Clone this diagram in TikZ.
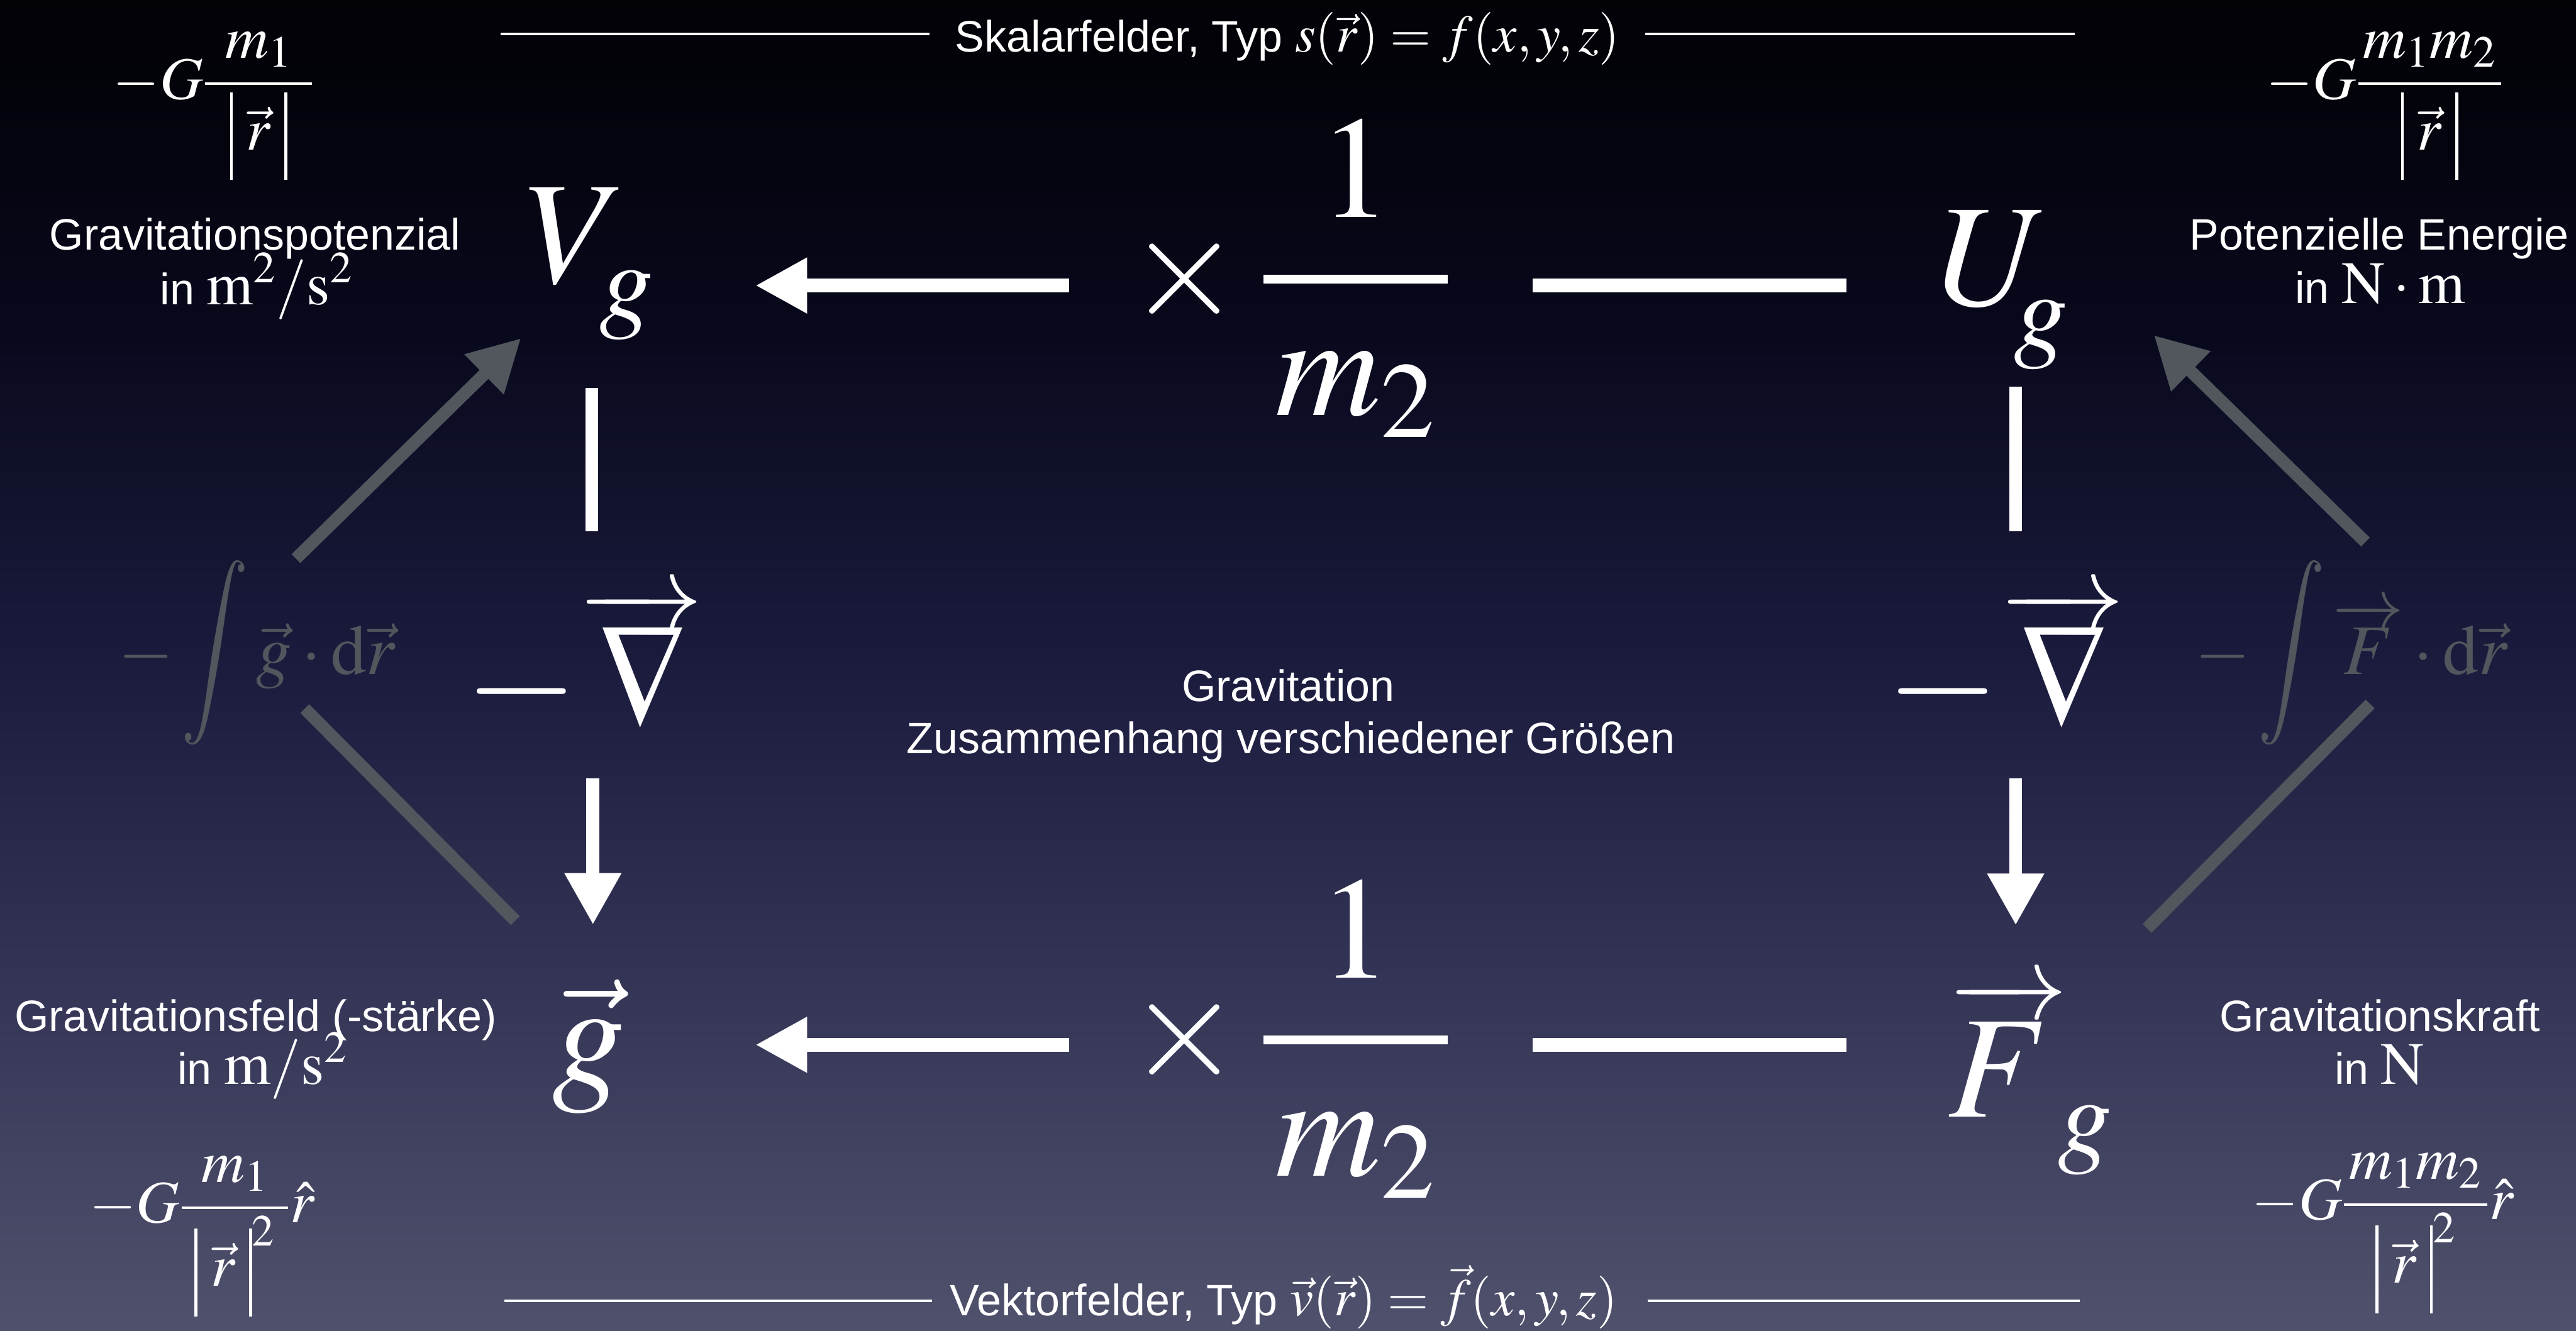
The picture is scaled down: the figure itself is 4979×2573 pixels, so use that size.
\documentclass[tikz,border=0pt]{standalone}
\usepackage{amsmath}
\usepackage{graphicx}
\usepackage{mathptmx}
\usepackage[no-math]{fontspec}
\setmainfont{Liberation Sans}
\usetikzlibrary{arrows.meta}
\definecolor{gr}{RGB}{82,86,93}
\definecolor{bgA}{RGB}{110,111,130}
\definecolor{bgB}{RGB}{96,97,121}
\definecolor{bgC}{RGB}{78,79,106}
\definecolor{bgD}{RGB}{52,53,86}
\definecolor{bgE}{RGB}{26,27,60}
\definecolor{bgF}{RGB}{8,8,28}
\definecolor{bgG}{RGB}{2,2,8}
\pgfdeclareverticalshading{bgshade}{100bp}{color(0bp)=(bgA); color(13.6bp)=(bgB); color(26bp)=(bgC); color(38.2bp)=(bgD); color(50.6bp)=(bgE); color(63bp)=(bgF); color(73bp)=(bgG); color(100bp)=(black)}
\newcommand\szLbl{\fontsize{24.2}{29}\selectfont}
\newcommand\szHdr{\fontsize{29}{35}\selectfont}
\newcommand\szMed{\fontsize{33}{40}\selectfont}
\newcommand\szInt{\fontsize{39}{47}\selectfont}
\newcommand\szBig{\fontsize{80}{96}\selectfont}
\newcommand\absbar{\rule[-0.5em]{0.05em}{1.46em}}
\newcommand\absr{{\absbar\mkern4mu\vec r\mkern4mu\absbar}}
\newcommand\bigint{\mathop{\raisebox{-0.02em}{\scalebox{1.05}[1.3]{$\displaystyle\int$}}}}
\newcommand\lowsub[1]{\lower#1\hbox{$\scriptstyle g$}}
% arrow laid over the following symbol: width, raise, font size
\newcommand\arrowover[3]{\rlap{\raisebox{#2}{\hbox to #1{\fontsize{#3}{#3}\selectfont\rightarrowfill}}}}
\newcommand\gradop{-\arrowover{24.1mm}{19.2mm}{58}\mkern2.5mu\scalebox{0.85}[1]{$\nabla$}}
\tikzset{
  lbl/.style={text=white, inner sep=0pt, font=\szLbl},
  wmath/.style={text=white, inner sep=0pt},
  gmath/.style={text=gr, inner sep=0pt},
  rulel/.style={draw=white, line width=0.05cm},
  wbar/.style={draw=white, line width=0.27cm},
  wvbar/.style={draw=white, line width=0.25cm},
  warrow/.style={draw=white, line width=0.27cm, -{Triangle[length=1cm,width=1.01cm]}},
  wvarrow/.style={draw=white, line width=0.25cm, -{Triangle[length=1cm,width=1.03cm]}},
  gline/.style={draw=gr, line width=0.24cm},
  garrow/.style={draw=gr, line width=0.24cm, -{Triangle[length=1cm,width=1.02cm]}}
}
\begin{document}
\begin{tikzpicture}[x=0.01cm,y=-0.01cm]
\useasboundingbox (0,0) rectangle (4979,2573);
\fill[shading=bgshade] (0,0) rectangle (4979,2573);

% header and footer
\node[lbl, anchor=base] (skal) at (2488,100) {Skalarfelder, Typ {\szHdr$s(\vec r) = f(x, y, z)$}};
\draw[rulel] (967,66) -- (1797,66);
\draw[rulel] (3180,66) -- (4010,66);
\node[lbl, anchor=base] (vekt) at (2481,2543) {Vektorfelder, Typ {\szHdr$\vec v(\vec r) = \vec f(x, y, z)$}};
\draw[rulel] (975,2515) -- (1802,2515);
\draw[rulel] (3185,2515) -- (4020,2515);

% center
\node[lbl, anchor=base] (c1) at (2490,1356) {Gravitation};
\node[lbl, anchor=base] (c2) at (2495,1457) {Zusammenhang verschiedener Größen};

% corner formulas
\node[wmath, anchor=base west] (fVg) at (218,191) {\szMed$-G\dfrac{\mkern6mu m_1\mkern6mu}{\absr}$};
\node[wmath, anchor=base west] (fUg) at (4379,191) {\szMed$-G\dfrac{\mkern1.5mu m_1m_2\mkern1.5mu}{\absr}$};
\node[wmath, anchor=base west] (fg) at (172,2364) {\szMed$-G\dfrac{\mkern6mu m_1\mkern6mu}{\absr^2}\hat r$};
\node[wmath, anchor=base west] (fFg) at (4352,2358) {\szMed$-G\dfrac{\mkern1.5mu m_1m_2\mkern1.5mu}{\absr^2}\hat r$};

% labels
\node[lbl, anchor=base] (lVa) at (493,483) {Gravitationspotenzial};
\node[lbl, anchor=base] (lVb) at (496,589) {in {\szMed$\mathrm{m}^2/\mathrm{s}^2$}};
\node[lbl, anchor=base] (lUa) at (4599,483) {Potenzielle Energie};
\node[lbl, anchor=base] (lUb) at (4600,587) {in {\szMed$\mathrm{N}\cdot\mathrm{m}$}};
\node[lbl, anchor=base] (lga) at (494,1994) {Gravitationsfeld (-stärke)};
\node[lbl, anchor=base] (lgb) at (507,2096) {in {\szMed$\mathrm{m}/\mathrm{s}^2$}};
\node[lbl, anchor=base] (lFa) at (4600,1994) {Gravitationskraft};
\node[lbl, anchor=base] (lFb) at (4599,2096) {in {\szMed$\mathrm{N}$}};

% main quantities
\node[wmath, anchor=base west] (Vg) at (1015,547) {\szBig$V_{\lowsub{0.09em}}$};
\node[wmath, anchor=base west] (Ug) at (3745,590) {\szBig$U_{\mkern-3mu\lowsub{0.14em}}$};
\node[wmath, anchor=base] (gv) at (1138,2095) {\szBig$\vec g$};
\node[wmath, anchor=base west] (Fg) at (3764,2159) {\szBig$\arrowover{23.1mm}{18.9mm}{58}F_{\mkern6mu\lowsub{0.1em}}$};

% operators
\node[wmath, anchor=base west] (mulT) at (2180,610) {\szBig$\times\mkern2.5mu\genfrac{}{}{4.8pt}{0}{\mkern1.5mu 1\mkern1.5mu}{\mkern1.5mu m_2\mkern1.5mu}$};
\node[wmath, anchor=base west] (mulB) at (2180,2081) {\szBig$\times\mkern2.5mu\genfrac{}{}{4.8pt}{0}{\mkern1.5mu 1\mkern1.5mu}{\mkern1.5mu m_2\mkern1.5mu}$};
\node[wmath, anchor=base west] (nabL) at (898,1407) {\szBig$\gradop$};
\node[wmath, anchor=base west] (nabR) at (3645,1407) {\szBig$\gradop$};

% integrals
\node[gmath, anchor=base west] (intL) at (228,1304) {\szInt$-\bigint\vec g\cdot\mathrm{d}\vec r$};
\node[gmath, anchor=base west] (intR) at (4242,1304) {\szInt$-\bigint\overrightarrow{F}\cdot\mathrm{d}\vec r$};

% connector end points
\coordinate (ugW) at (3569,552);
\coordinate (mTe) at (2962,552);
\coordinate (mTw) at (2067,552);
\coordinate (vgE) at (1460,552);
\coordinate (fgW) at (3569,2020);
\coordinate (mBe) at (2962,2020);
\coordinate (mBw) at (2067,2020);
\coordinate (gvE) at (1460,2020);
\coordinate (vgS) at (1144,750);
\coordinate (nLn) at (1144,1027);
\coordinate (nLs) at (1146,1505);
\coordinate (gvN) at (1146,1788);
\coordinate (ugS) at (3896,748);
\coordinate (nRn) at (3896,1027);
\coordinate (nRs) at (3896,1505);
\coordinate (fgN) at (3896,1789);
\coordinate (gvNW) at (996,1780);
\coordinate (iLs) at (589,1370);
\coordinate (iLn) at (572,1080);
\coordinate (vgSW) at (1007,654);
\coordinate (fgNE) at (4150,1795);
\coordinate (iRs) at (4581,1361);
\coordinate (iRn) at (4572,1048);
\coordinate (ugSE) at (4163,648);

% white connectors
\draw[wbar] (ugW) -- (mTe);
\draw[warrow] (mTw) -- (vgE);
\draw[wbar] (fgW) -- (mBe);
\draw[warrow] (mBw) -- (gvE);
\draw[wvbar] (vgS) -- (nLn);
\draw[wvarrow] (nLs) -- (gvN);
\draw[wvbar] (ugS) -- (nRn);
\draw[wvarrow] (nRs) -- (fgN);

% gray connectors
\draw[gline] (gvNW) -- (iLs);
\draw[garrow] (iLn) -- (vgSW);
\draw[gline] (fgNE) -- (iRs);
\draw[garrow] (iRn) -- (ugSE);
\end{tikzpicture}
\end{document}
